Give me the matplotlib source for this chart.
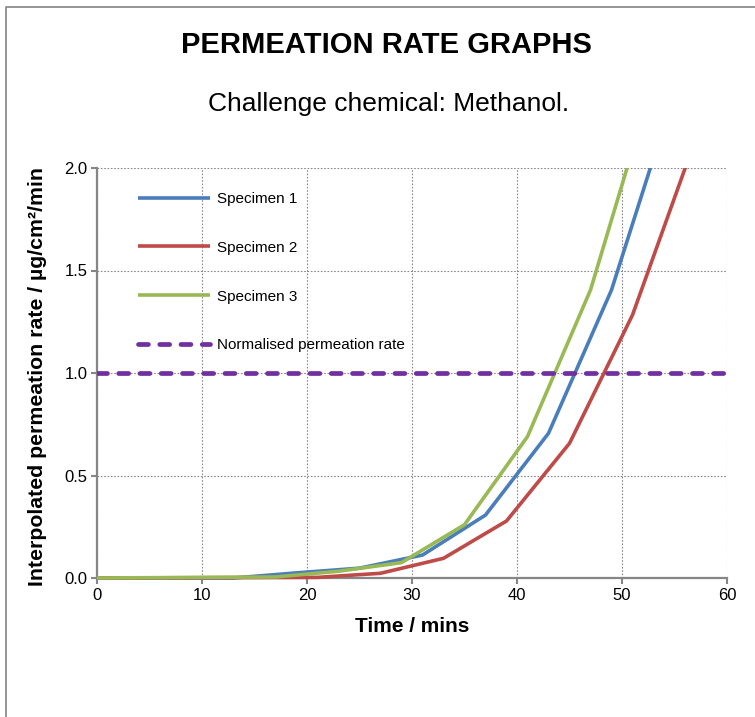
import matplotlib
matplotlib.use("Agg")
import matplotlib.pyplot as plt
from matplotlib.lines import Line2D
from matplotlib.patches import Rectangle

plt.rcParams["font.family"] = ["Liberation Sans", "DejaVu Sans"]

# values
time1 = [0, 13, 19, 25, 31, 37, 43, 49, 55]
rate1 = [0, 0, 0.025, 0.048, 0.112, 0.307, 0.706, 1.405, 2.37]
time2 = [0, 21, 27, 33, 39, 45, 51, 57]
rate2 = [0, 0.003, 0.023, 0.096, 0.278, 0.657, 1.283, 2.14]
time3 = [0, 17, 23, 29, 35, 41, 47, 53]
rate3 = [0, 0.005, 0.033, 0.075, 0.26, 0.69, 1.405, 2.43]
norm_rate = 1.0

labels = ["Specimen 1", "Specimen 2", "Specimen 3", "Normalised permeation rate"]
colors = ["#4A7EBB", "#BE4B48", "#98B954", "#7030A0"]
xticks = [0, 10, 20, 30, 40, 50, 60]
yticks = [0.0, 0.5, 1.0, 1.5, 2.0]

W, H = 755, 717
fig = plt.figure(figsize=(W / 100, H / 100), dpi=100)
ax = fig.add_axes([97 / W, 139 / H, 630 / W, 410 / H])

# outer frame (top and left only)
fig.add_artist(Line2D([6 / W, 6 / W, 1], [0, 1 - 7 / H, 1 - 7 / H],
                      transform=fig.transFigure, color="#8c8c8c", lw=1.3))

clip = Rectangle((0, -0.02), 1, 1.02, transform=ax.transAxes, visible=False)
ax.add_patch(clip)

for t, r, c, lab in zip([time1, time2, time3], [rate1, rate2, rate3], colors, labels):
    ln, = ax.plot(t, r, color=c, lw=2.6, label=lab, zorder=3, solid_capstyle="butt")
    ln.set_clip_path(clip)

ax.axhline(norm_rate, color=colors[3], lw=3.4, dashes=(2.1, 2.4),
           dash_capstyle="round", label=labels[3], zorder=3)

ax.set_xlim(0, 60)
ax.set_ylim(0, 2.0)
ax.set_xticks(xticks)
ax.set_yticks(yticks)
ax.yaxis.set_major_formatter(matplotlib.ticker.FormatStrFormatter("%.1f"))
ax.grid(True, color="#8a8a8a", linestyle=(0, (1.5, 1.5)), lw=0.8)
ax.set_axisbelow(True)

for s in ["top", "right"]:
    ax.spines[s].set_visible(False)
for s in ["left", "bottom"]:
    ax.spines[s].set_color("#868686")
    ax.spines[s].set_linewidth(1.6)
ax.tick_params(direction="out", length=4, width=1.5, color="#868686",
               labelsize=12, pad=3)

ax.legend(loc="upper left", bbox_to_anchor=(138 / W, 1 - 192 / H),
          bbox_transform=fig.transFigure, frameon=False, fontsize=11,
          handlelength=4.7, handletextpad=0.5, labelspacing=2.28,
          borderpad=0, borderaxespad=0)

fig.text(386 / W, 1 - 45 / H, "PERMEATION RATE GRAPHS", ha="center", va="center",
         fontsize=21, fontweight="bold")
fig.text(389 / W, 1 - 104 / H, "Challenge chemical: Methanol.", ha="center",
         va="center", fontsize=19)
fig.text(412 / W, 1 - 626 / H, "Time / mins", ha="center", va="center",
         fontsize=15, fontweight="bold")
fig.text(38 / W, 1 - 376 / H, "Interpolated permeation rate / µg/cm²/min",
         ha="center", va="center", rotation=90, fontsize=15.3, fontweight="bold")

fig.savefig("out.png", dpi=100, facecolor="white")
